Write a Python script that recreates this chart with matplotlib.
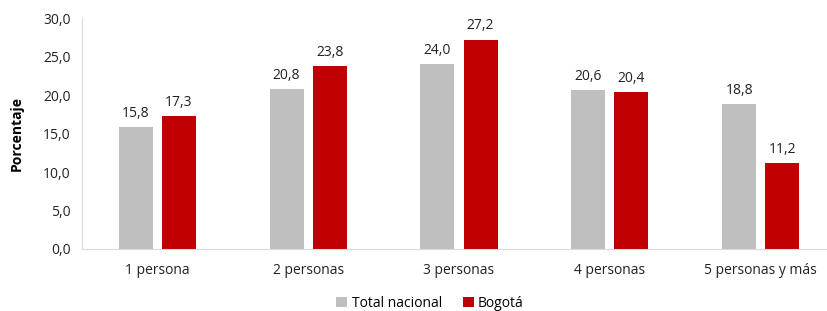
import numpy as np
from matplotlib import pyplot as plt

categorias = ['1 persona', '2 personas', '3 personas', '4 personas', '5 personas y más']
total_nacional = [15.8, 20.8, 24.0, 20.6, 18.8]
bogota = [17.3, 23.8, 27.2, 20.4, 11.2]

plt.rcParams['font.family'] = ['Open Sans', 'DejaVu Sans']

fig = plt.figure(figsize=(8.27, 3.11), dpi=100)
ax = fig.add_axes([0.099, 0.1994, 0.912, 0.7426])

x = np.arange(len(categorias))
w = 0.226
off = 0.143
b1 = ax.bar(x - off, total_nacional, w, color='#bfbfbf', label='Total nacional')
b2 = ax.bar(x + off, bogota, w, color='#c00000', label='Bogotá')

for bars, vals in ((b1, total_nacional), (b2, bogota)):
    for b, v in zip(bars, vals):
        ax.text(b.get_x() + b.get_width() / 2, v + 0.8, f'{v:.1f}'.replace('.', ','),
                ha='center', va='bottom', fontsize=10, color='#222222')

ax.set_xlim(-0.5, len(categorias) - 0.5)
ax.set_ylim(0, 30)
ax.set_yticks(np.arange(0, 31, 5))
ax.set_yticklabels([f'{v:.1f}'.replace('.', ',') for v in np.arange(0, 31, 5)])
ax.set_xticks(x)
ax.set_xticklabels(categorias)
ax.tick_params(axis='both', length=0, labelsize=10, colors='#222222')
ax.tick_params(axis='x', pad=10)
ax.tick_params(axis='y', pad=8)
for s in ('top', 'right'):
    ax.spines[s].set_visible(False)
for s in ('left', 'bottom'):
    ax.spines[s].set_color('#d9d9d9')

ax.set_ylabel('Porcentaje', fontsize=10, fontweight='bold', labelpad=14)

fig.legend(loc='lower center', bbox_to_anchor=(0.52, -0.04), ncol=2, frameon=False,
           fontsize=10, handlelength=0.8, handleheight=0.8, handletextpad=0.3,
           columnspacing=1.5)

fig.savefig('out.png', dpi=100)
plt.close()
